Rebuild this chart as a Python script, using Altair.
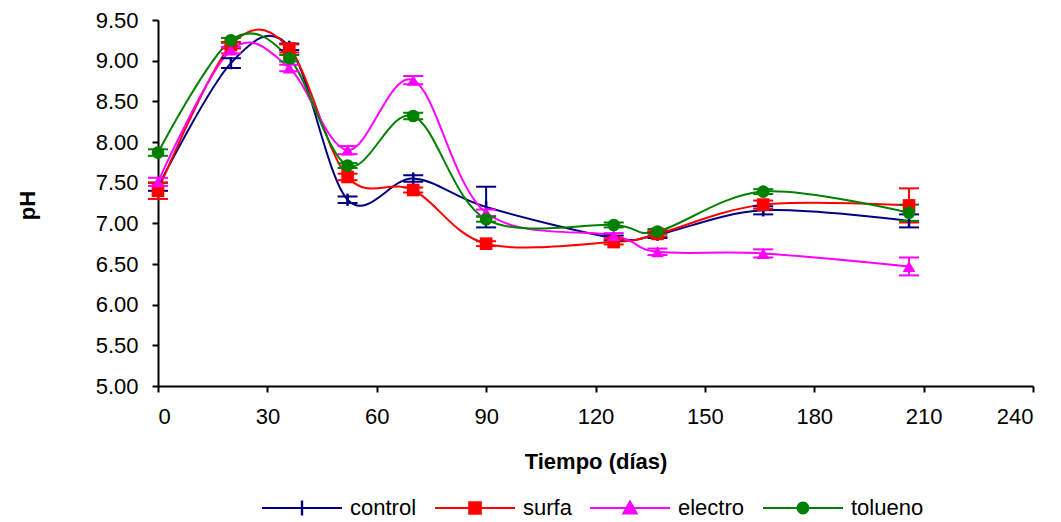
import altair as alt
import pandas as pd

# ---- data ----
days = [0, 20, 36, 52, 70, 90, 125, 137, 166, 206]
series_names = ["control", "surfa", "electro", "tolueno"]

control = [7.45, 8.97, 9.17, 7.29, 7.55, 7.20, 6.82, 6.86, 7.16, 7.03]
surfa = [7.40, 9.19, 9.15, 7.57, 7.41, 6.75, 6.77, 6.87, 7.23, 7.22]
electro = [7.51, 9.13, 8.91, 7.90, 8.76, 7.13, 6.85, 6.65, 6.63, 6.47]
tolueno = [7.87, 9.25, 9.03, 7.71, 8.32, 7.05, 6.98, 6.90, 7.39, 7.13]

err_control = [0.05, 0.06, 0.04, 0.04, 0.04, 0.25, 0.03, 0.04, 0.05, 0.08]
err_surfa = [0.10, 0.04, 0.05, 0.04, 0.03, 0.03, 0.03, 0.03, 0.05, 0.21]
err_electro = [0.05, 0.04, 0.04, 0.05, 0.05, 0.04, 0.03, 0.04, 0.05, 0.11]
err_tolueno = [0.04, 0.03, 0.04, 0.03, 0.04, 0.03, 0.03, 0.03, 0.03, 0.10]

colors = ["#000080", "#FF0000", "#FF00FF", "#008000"]
marker_shapes = ["M0,-1V1", "square", "triangle-up", "circle"]
# legend glyphs: a thin filled bar (the line) plus the marker, all filled
legend_shapes = [
    "M-1,-0.025H1V0.025H-1ZM-0.03,-0.19H0.03V0.19H-0.03Z",
    "M-1,-0.025H1V0.025H-1ZM-0.17,-0.17H0.17V0.17H-0.17Z",
    "M-1,-0.025H1V0.025H-1ZM0,-0.21L0.21,0.16H-0.21Z",
    "M-1,-0.025H1V0.025H-1ZM0.16,0A0.16 0.16 0 1 1 -0.16,0A0.16 0.16 0 1 1 0.16,0Z",
]
x_ticks = [0, 30, 60, 90, 120, 150, 180, 210, 240]
y_ticks = [5.0, 5.5, 6.0, 6.5, 7.0, 7.5, 8.0, 8.5, 9.0, 9.5]

values = {"control": control, "surfa": surfa, "electro": electro, "tolueno": tolueno}
errors = {"control": err_control, "surfa": err_surfa, "electro": err_electro, "tolueno": err_tolueno}

rows = []
for s in series_names:
    for d, v, e in zip(days, values[s], errors[s]):
        rows.append({"series": s, "day": d, "ph": v, "lo": v - e, "hi": v + e})
df = pd.DataFrame(rows)

FONT = "Liberation Sans"
color_scale = alt.Scale(domain=series_names, range=colors)
no_leg_color = alt.Color("series:N", scale=color_scale, legend=None)

x_enc = alt.X(
    "day:Q",
    scale=alt.Scale(domain=[0, 240], nice=False),
    axis=alt.Axis(values=x_ticks, title="Tiempo (días)", grid=False),
)
y_enc = alt.Y(
    "ph:Q",
    scale=alt.Scale(domain=[5.0, 9.5], nice=False, zero=False),
    axis=alt.Axis(values=y_ticks, format=".2f", title="pH", grid=False,
                  titleX=-131, titleY=185, titleAngle=270,
                  titleAlign="center", titleBaseline="middle"),
)

base = alt.Chart(df)

lines = base.mark_line(interpolate="cardinal", tension=0, strokeWidth=2).encode(
    x=x_enc, y=y_enc, color=no_leg_color, detail="series:N",
)

rules = base.mark_rule(strokeWidth=2).encode(
    x="day:Q", y="lo:Q", y2="hi:Q", color=no_leg_color,
)

caps_lo = base.mark_tick(orient="horizontal", size=20, thickness=2, opacity=1).encode(
    x="day:Q", y="lo:Q", color=no_leg_color,
)
caps_hi = base.mark_tick(orient="horizontal", size=20, thickness=2, opacity=1).encode(
    x="day:Q", y="hi:Q", color=no_leg_color,
)

point_layers = []
for s, shp in zip(series_names, marker_shapes):
    if shp.startswith("M"):
        mk = base.mark_point(shape=shp, filled=False, opacity=1, size=150, strokeWidth=2.5)
    else:
        mk = base.mark_point(shape=shp, filled=True, opacity=1, size=160)
    point_layers.append(
        mk.transform_filter(alt.datum.series == s).encode(x="day:Q", y="ph:Q", color=no_leg_color)
    )

legend_carrier = base.transform_filter("false").mark_point(filled=True, opacity=1).encode(
    x="day:Q", y="ph:Q",
    color=alt.Color("series:N", scale=color_scale, legend=alt.Legend(title=None)),
    shape=alt.Shape("series:N", scale=alt.Scale(domain=series_names, range=legend_shapes),
                    legend=alt.Legend(title=None)),
)

chart = alt.layer(lines, rules, caps_lo, caps_hi, *point_layers, legend_carrier).resolve_scale(
    color="independent", shape="independent"
).properties(
    width=875, height=366,
    autosize="none",
    padding={"left": 158, "top": 20, "right": 28, "bottom": 136},
).configure_view(stroke=None).configure_axis(
    labelFont=FONT, labelFontSize=22, labelColor="#000000",
    titleFont=FONT, titleFontSize=22, titleFontWeight="bold", titleColor="#000000",
    domainColor="#000000", domainWidth=2, tickColor="#000000", tickWidth=2, tickSize=6,
).configure_axisX(
    labelPadding=14, titlePadding=24,
).configure_axisY(
    labelPadding=14,
).configure_legend(
    orient="none", legendX=104, legendY=448, direction="horizontal",
    labelFont=FONT, labelFontSize=22, labelColor="#000000",
    symbolSize=6400, symbolStrokeWidth=0, labelOffset=8, columnPadding=18,
)

chart.save("out.html", embed_options={"renderer": "svg", "actions": False})
